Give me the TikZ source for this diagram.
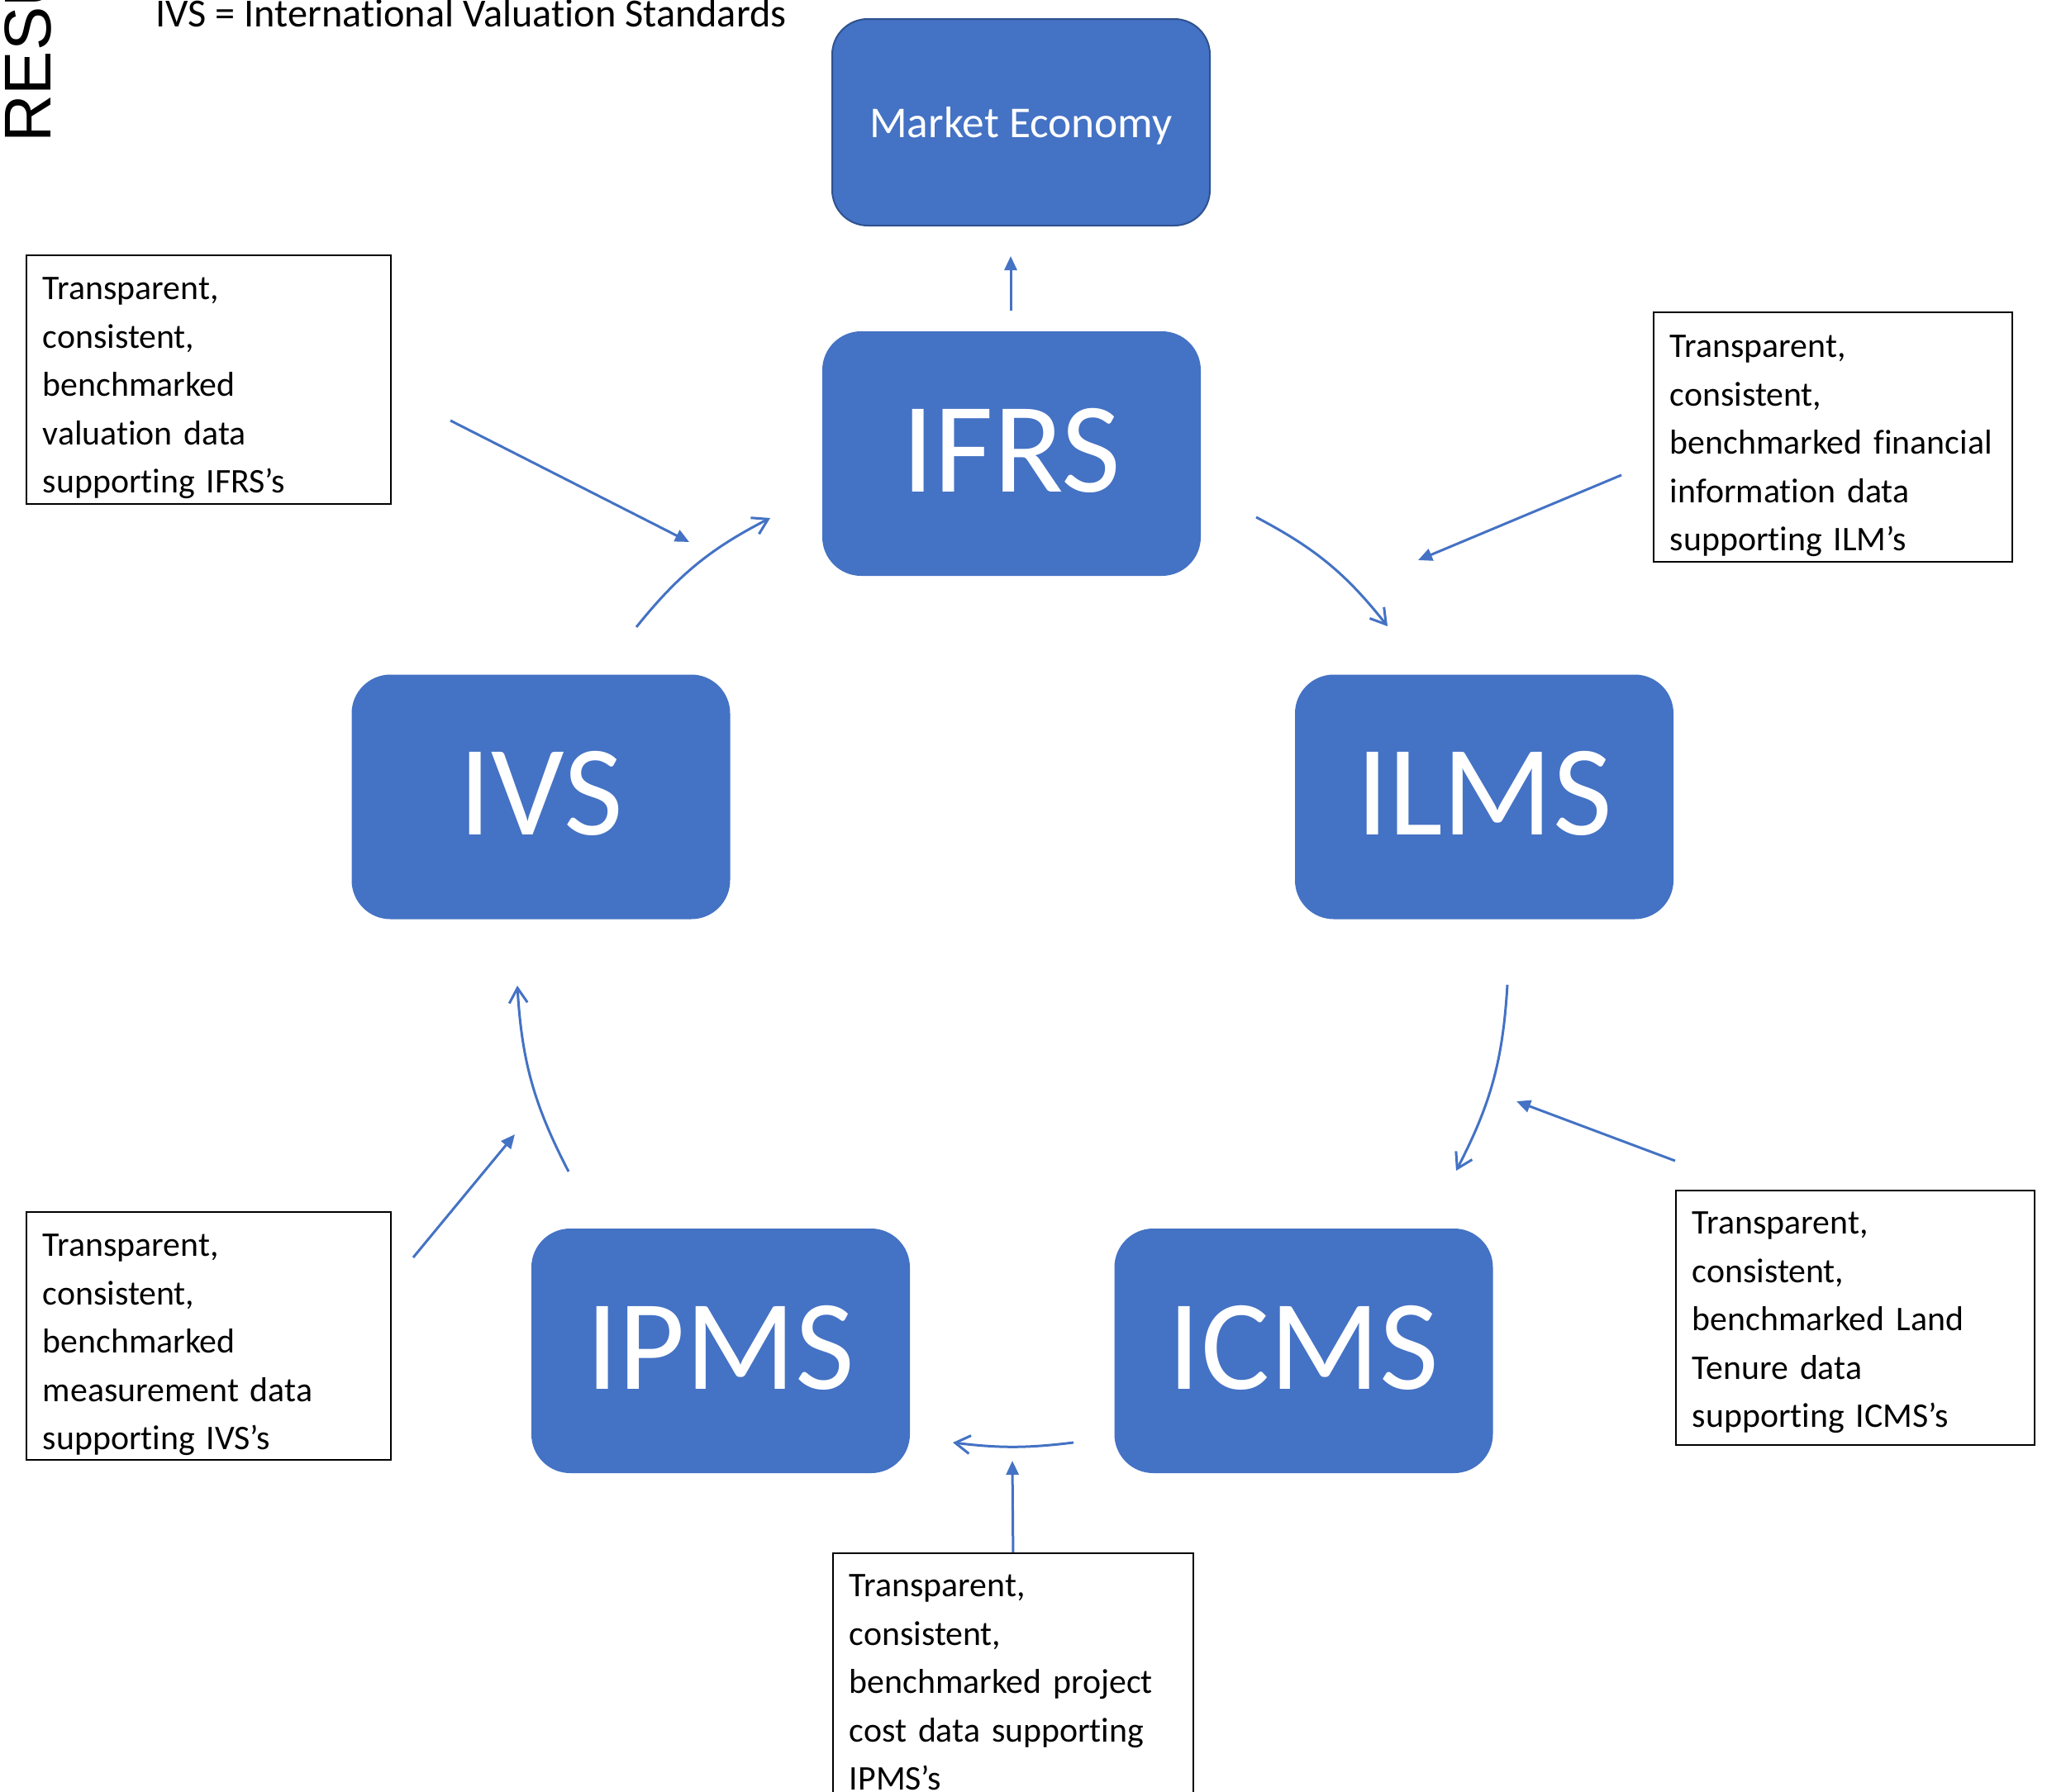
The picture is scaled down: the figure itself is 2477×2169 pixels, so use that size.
\documentclass[tikz,border=0pt]{standalone}
\usepackage{fontspec}
\setmainfont{Carlito}[Ligatures={TeX,NoCommon}]
\newfontfamily\arialfont{Liberation Sans}
\usetikzlibrary{arrows.meta}
\definecolor{boxblue}{HTML}{4472C4}
\definecolor{edgeblue}{HTML}{2F528F}
\begin{document}
\begin{tikzpicture}[x=1pt,y=1pt,
  bigbox/.style={rounded corners=47pt, fill=boxblue, minimum width=458pt, minimum height=296pt,
    inner sep=0pt, text=white, font=\fontsize{156}{156}\selectfont, text height=92pt, text depth=0pt},
  notebox/.style={draw=black, line width=1.8pt, anchor=north west, inner xsep=20pt, inner ysep=0pt,
    align=left, font=\fontsize{41.8}{58.5}\selectfont},
  flow/.style={draw=boxblue, line width=3pt, -{Straight Barb[length=18pt,width=22pt]}},
  feed/.style={draw=boxblue, line width=3pt, -{Triangle[length=17pt,width=15pt]}},
]
\useasboundingbox (0,0) rectangle (2477,-2169);
\fill[white] (0,0) rectangle (2477,-2169);

% titles
\node[font=\arialfont\fontsize{80}{80}\selectfont, rotate=90, anchor=base west, inner sep=0pt] (res) at (61,-173) {RESU};
\node[anchor=base west, inner sep=0pt, font=\fontsize{48.3}{50}\selectfont] (note) at (188,-32) {IVS = International Valuation Standards};

% market economy
\node[rounded corners=43pt, fill=boxblue, draw=edgeblue, line width=2pt, minimum width=457pt, minimum height=250pt,
  inner sep=0pt, text=white, font=\fontsize{53.4}{54}\selectfont, text height=37pt, text depth=0pt] (me) at (1235.5,-148) {Market Economy};

% main boxes
\node[bigbox] (ifrs) at (1224,-549) {IFRS};
\node[bigbox] (ivs) at (654.5,-964.5) {IVS};
\node[bigbox] (ilms) at (1796,-964.5) {ILMS};
\node[bigbox] (ipms) at (872,-1635) {IPMS};
\node[bigbox] (icms) at (1577.5,-1635) {ICMS};

% note boxes
\node[notebox, text width=401pt] (tl) at (31,-308)
  {\rule{0pt}{54pt}Transparent,\\consistent,\\benchmarked\\valuation data\\supporting IFRS’s\rule[-13pt]{0pt}{13pt}};
\node[notebox, text width=394pt] (tr) at (2000,-377)
  {\rule{0pt}{55pt}Transparent,\\consistent,\\benchmarked financial\\information data\\supporting ILM’s\rule[-13pt]{0pt}{13pt}};
\node[notebox, text width=401pt] (bl) at (31,-1466)
  {\rule{0pt}{54pt}Transparent,\\consistent,\\benchmarked\\measurement data\\supporting IVS’s\rule[-12pt]{0pt}{12pt}};
\node[notebox, text width=394pt] (br) at (2027,-1440)
  {\rule{0pt}{53pt}Transparent,\\consistent,\\benchmarked Land\\Tenure data\\supporting ICMS’s\rule[-21pt]{0pt}{21pt}};
\node[notebox, text width=396pt] (bc) at (1007,-1879)
  {\rule{0pt}{53pt}Transparent,\\consistent,\\benchmarked project\\cost data supporting\\IPMS’s\rule[-13pt]{0pt}{13pt}};

% connector end points
\coordinate (a1s) at (1223,-376);  \coordinate (a1e) at (1223,-310);
\coordinate (a2s) at (545,-509);   \coordinate (a2e) at (834,-656);
\coordinate (a3s) at (770,-759);   \coordinate (a3e) at (932,-627);
\coordinate (a4s) at (1520,-626);  \coordinate (a4e) at (1679,-758);
\coordinate (a5s) at (1962,-575);  \coordinate (a5e) at (1716,-678);
\coordinate (a6s) at (1824,-1192); \coordinate (a6e) at (1762,-1417);
\coordinate (a7s) at (2027,-1405); \coordinate (a7e) at (1835,-1333);
\coordinate (a8s) at (1299,-1746); \coordinate (a8e) at (1153,-1746);
\coordinate (a9e) at (1225,-1768);
\coordinate (a10s) at (688,-1418); \coordinate (a10e) at (626,-1193);
\coordinate (a11s) at (500,-1522); \coordinate (a11e) at (623,-1373);

% cycle arrows
\draw[flow] (a3s) to[bend left=12] (a3e);
\draw[flow] (a4s) to[bend left=12] (a4e);
\draw[flow] (a6s) to[bend left=12] (a6e);
\draw[flow] (a8s) to[bend left=7] (a8e);
\draw[flow] (a10s) to[bend left=12] (a10e);

% feed arrows
\draw[feed] (a1s) -- (a1e);
\draw[feed] (a2s) -- (a2e);
\draw[feed] (a5s) -- (a5e);
\draw[feed] (a7s) -- (a7e);
\draw[feed] (bc.north) -- (a9e);
\draw[feed] (a11s) -- (a11e);
\end{tikzpicture}
\end{document}
